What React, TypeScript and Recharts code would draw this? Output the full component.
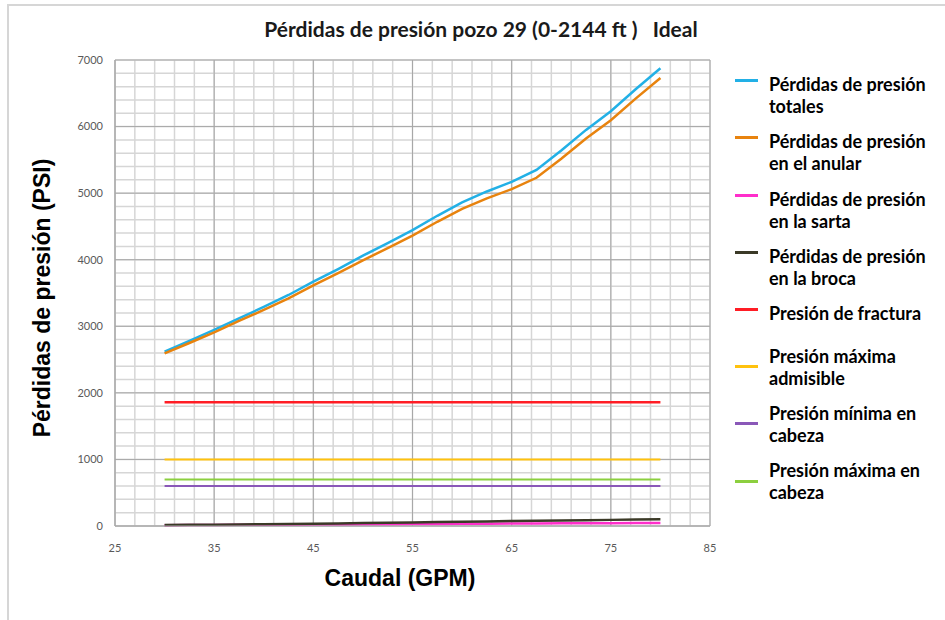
import * as React from "react";
import { CartesianGrid, Line, LineChart, XAxis, YAxis } from "recharts";

// Caudal (GPM) and pressure losses (PSI)
const caudalGpm = [30, 32.5, 35, 37.5, 40, 42.5, 45, 47.5, 50, 52.5, 55, 57.5, 60, 62.5, 65, 67.5, 70, 72.5, 75, 77.5, 80];
const perdidasTotales = [2620, 2780, 2945, 3120, 3290, 3470, 3670, 3860, 4060, 4250, 4445, 4660, 4860, 5025, 5170, 5348, 5640, 5950, 6230, 6560, 6875];
const perdidasAnular = [2594, 2749, 2910, 3080, 3245, 3419, 3613, 3797, 3991, 4174, 4362, 4570, 4763, 4921, 5060, 5231, 5516, 5821, 6096, 6420, 6730];
const perdidasSarta = [12, 14, 15, 17, 18, 20, 22, 24, 25, 27, 29, 31, 33, 35, 36, 38, 40, 41, 42, 44, 45];
const perdidasBroca = [14, 17, 20, 23, 27, 31, 35, 39, 44, 49, 54, 59, 64, 69, 74, 79, 84, 88, 92, 96, 100];

const presionFractura = 1860;
const presionMaximaAdmisible = 1000;
const presionMinimaCabeza = 600;
const presionMaximaCabeza = 700;

const xTicks = [25, 35, 45, 55, 65, 75, 85];
const yTicks = [0, 1000, 2000, 3000, 4000, 5000, 6000, 7000];
// minor grid: every 2 GPM and every 200 PSI
const xMinor = Array.from({ length: 31 }, (_, i) => 25 + i * 2);
const yMinor = Array.from({ length: 36 }, (_, i) => i * 200);

const chartData = caudalGpm.map((q, i) => ({
  q,
  totales: perdidasTotales[i],
  anular: perdidasAnular[i],
  sarta: perdidasSarta[i],
  broca: perdidasBroca[i],
  fractura: presionFractura,
  maxAdmisible: presionMaximaAdmisible,
  minCabeza: presionMinimaCabeza,
  maxCabeza: presionMaximaCabeza,
}));

const series = [
  { key: "totales", name: "Pérdidas de presión totales", color: "#22b0e6", width: 2.5 },
  { key: "anular", name: "Pérdidas de presión en el anular", color: "#e8830e", width: 2.5 },
  { key: "sarta", name: "Pérdidas de presión en la sarta", color: "#ff2ecb", width: 2.5 },
  { key: "broca", name: "Pérdidas de presión en la broca", color: "#3b3a27", width: 2.5 },
  { key: "fractura", name: "Presión de fractura", color: "#ff1d25", width: 2.5 },
  { key: "maxAdmisible", name: "Presión máxima admisible", color: "#ffc20e", width: 2 },
  { key: "minCabeza", name: "Presión mínima en cabeza", color: "#8a58b8", width: 2 },
  { key: "maxCabeza", name: "Presión máxima en cabeza", color: "#8ccf3f", width: 2 },
];

const uiFont = "Lato, 'Open Sans', sans-serif";
const axisFont = "'Liberation Sans', Arial, sans-serif";

function ChartLegend() {
  return (
    <>
      {series.map((s, i) => {
        const markerY = 80 + i * 57.3;
        const centered = i >= 5;
        return (
          <div
            key={s.key}
            style={{
              position: "absolute",
              left: 735,
              top: centered ? markerY - 22 : markerY - 7,
              height: centered ? 44 : undefined,
              display: "flex",
              alignItems: centered ? "center" : "flex-start",
            }}
          >
            <div
              style={{
                width: 23,
                height: 3,
                background: s.color,
                marginTop: centered ? 0 : 6,
                flex: "none",
              }}
            />
            <div
              style={{
                marginLeft: 11,
                width: 172,
                fontFamily: uiFont,
                fontWeight: 700,
                fontSize: 18,
                lineHeight: "22px",
                color: "#000",
              }}
            >
              {s.name}
            </div>
          </div>
        );
      })}
    </>
  );
}

export default function App() {
  return (
    <div
      style={{
        position: "absolute",
        left: 0,
        top: 0,
        width: 945,
        height: 620,
        background: "#fff",
        overflow: "hidden",
      }}
    >
      <div
        style={{
          position: "absolute",
          left: 7,
          top: 4,
          width: 945,
          height: 620,
          borderLeft: "2px solid #d6d6d6",
          borderTop: "2px solid #d6d6d6",
        }}
      />
      <div
        style={{
          position: "absolute",
          left: 0,
          top: 16,
          width: 962,
          textAlign: "center",
          fontFamily: uiFont,
          fontWeight: 700,
          fontSize: 21,
          whiteSpace: "pre",
          color: "#1a1a1a",
        }}
      >
        {"Pérdidas de presión pozo 29 (0-2144 ft )   Ideal"}
      </div>
      <div style={{ position: "absolute", left: 0, top: 0 }}>
        <LineChart
          width={945}
          height={620}
          data={chartData}
          margin={{ top: 60, right: 235, bottom: 64, left: 55 }}
        >
          <CartesianGrid
            stroke="#d6d6d6"
            strokeWidth={1.5}
            verticalValues={xMinor}
            horizontalValues={yMinor}
          />
          <CartesianGrid
            stroke="#a8a8a8"
            strokeWidth={1}
            verticalValues={xTicks}
            horizontalValues={yTicks}
          />
          <XAxis
            type="number"
            dataKey="q"
            domain={[25, 85]}
            ticks={xTicks}
            interval={0}
            height={30}
            tickSize={0}
            tickMargin={18}
            axisLine={{ stroke: "#a8a8a8" }}
            tick={{ fontSize: 11, fill: "#595959", fontFamily: uiFont }}
          />
          <YAxis
            type="number"
            domain={[0, 7000]}
            ticks={yTicks}
            interval={0}
            width={60}
            tickSize={0}
            tickMargin={12}
            axisLine={{ stroke: "#a8a8a8" }}
            tick={{ fontSize: 11, fill: "#595959", fontFamily: uiFont }}
          />
          {series.map((s) => (
            <Line
              key={s.key}
              type="linear"
              dataKey={s.key}
              name={s.name}
              stroke={s.color}
              strokeWidth={s.width}
              dot={false}
              activeDot={false}
              isAnimationActive={false}
            />
          ))}
        </LineChart>
      </div>
      <div
        style={{
          position: "absolute",
          left: 42,
          top: 298,
          transform: "translate(-50%, -50%) rotate(-90deg)",
          fontFamily: axisFont,
          fontWeight: 700,
          fontSize: 23,
          whiteSpace: "nowrap",
          color: "#000",
        }}
      >
        Pérdidas de presión (PSI)
      </div>
      <div
        style={{
          position: "absolute",
          left: 400,
          top: 578,
          transform: "translate(-50%, -50%)",
          fontFamily: axisFont,
          fontWeight: 700,
          fontSize: 23,
          whiteSpace: "nowrap",
          color: "#000",
        }}
      >
        Caudal (GPM)
      </div>
      <ChartLegend />
    </div>
  );
}
